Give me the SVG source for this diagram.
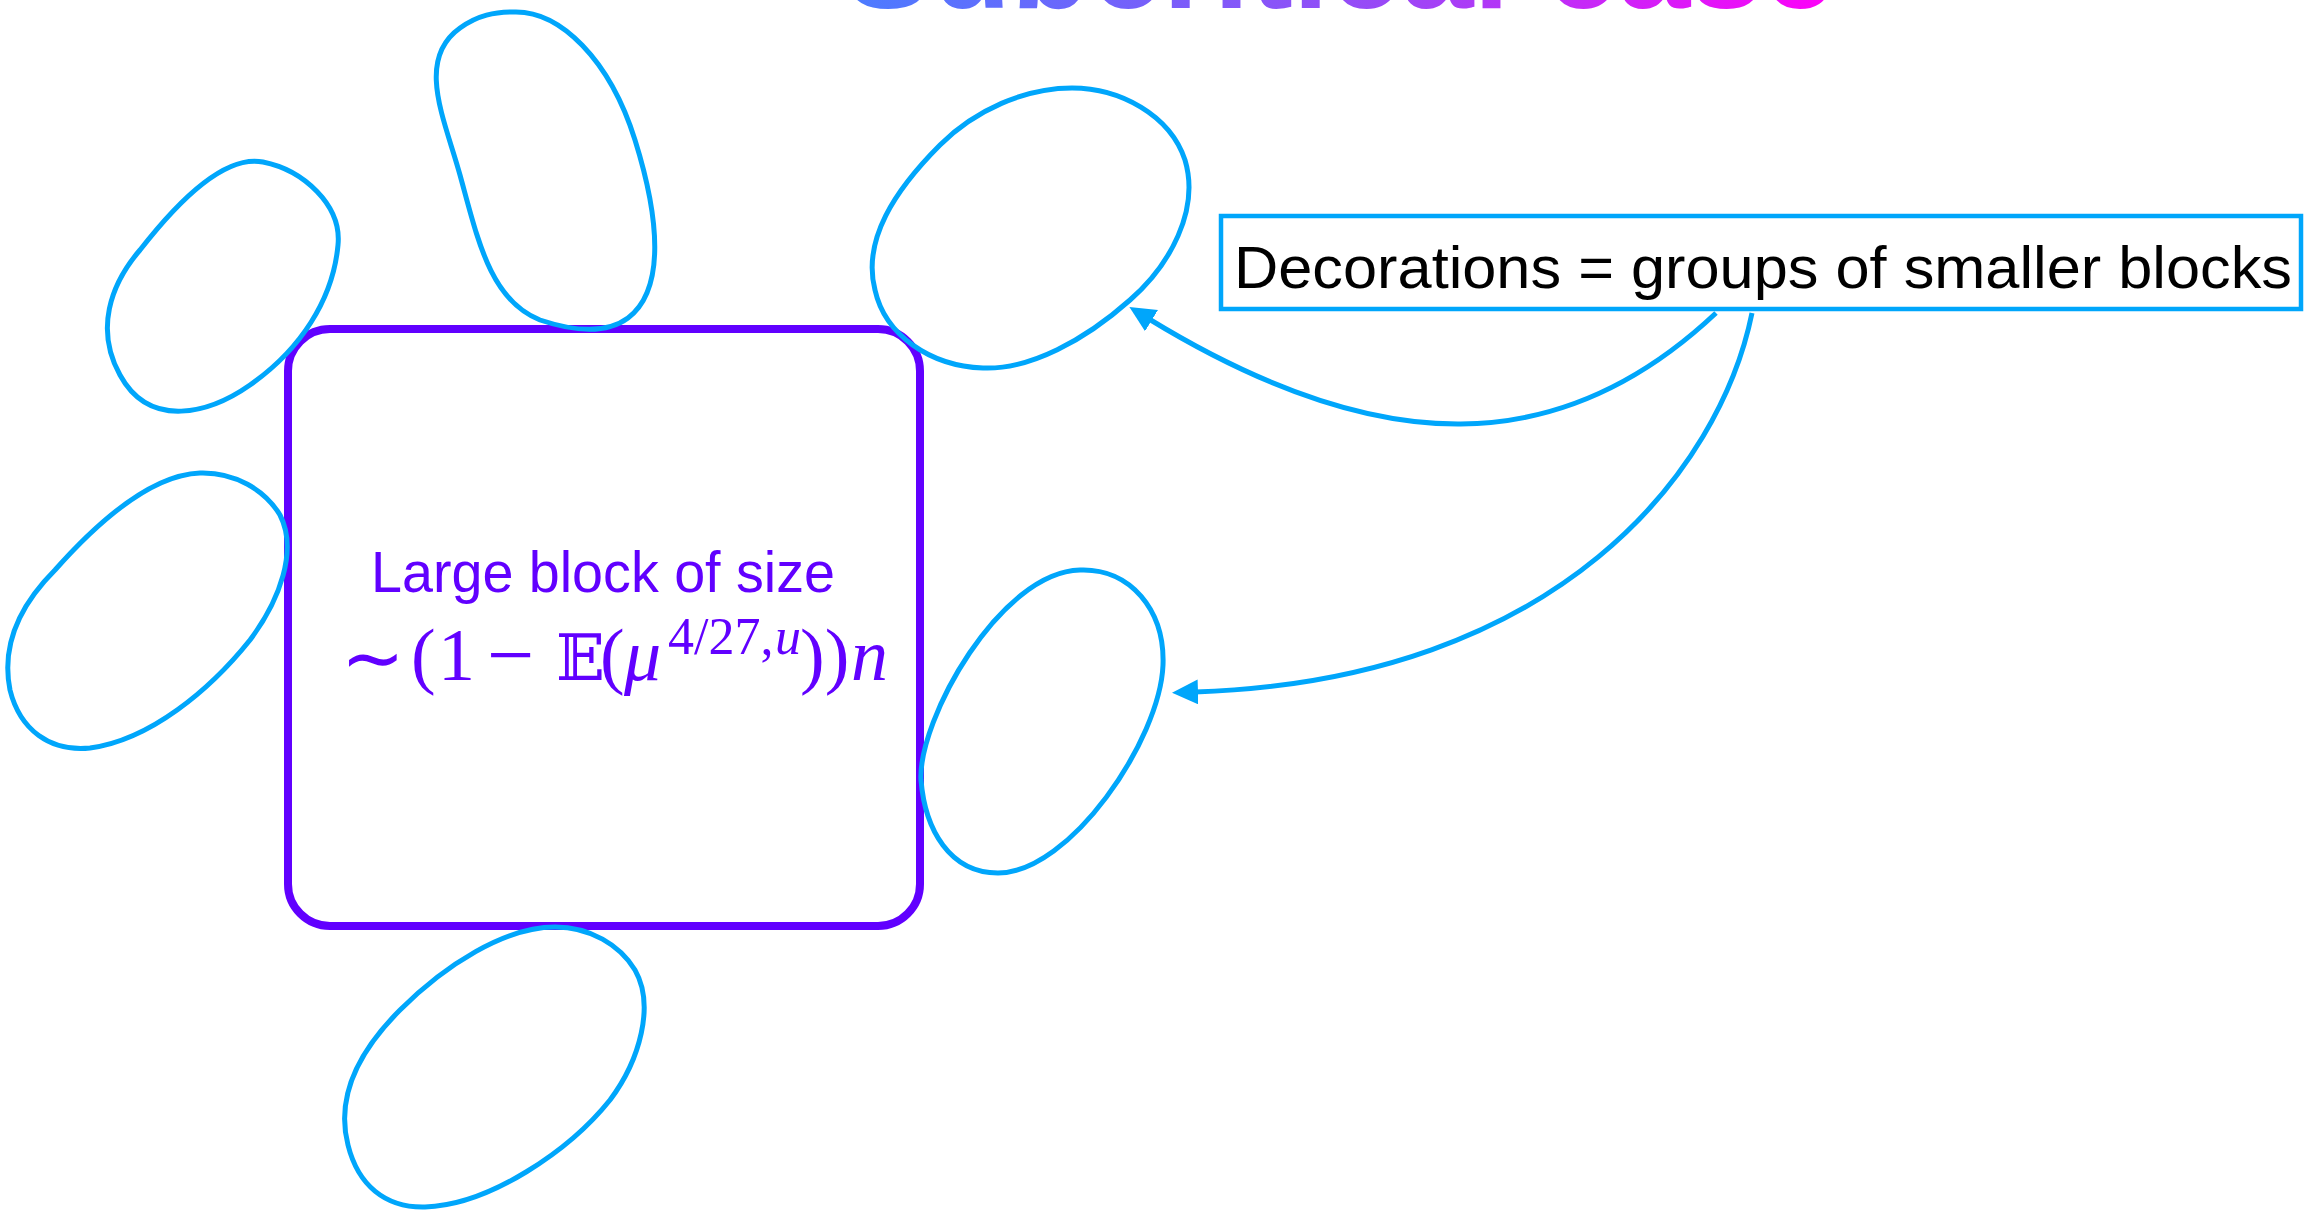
<svg xmlns="http://www.w3.org/2000/svg" width="2304" height="1211" viewBox="0 0 2304 1211">
<defs>
<linearGradient id="tg" gradientUnits="userSpaceOnUse" x1="845" y1="0" x2="1837" y2="0">
<stop offset="0" stop-color="#4b7cff"/>
<stop offset="0.55" stop-color="#9a48f6"/>
<stop offset="1" stop-color="#ff00f8"/>
</linearGradient>
<marker id="ah" markerUnits="userSpaceOnUse" markerWidth="28" markerHeight="26" refX="3" refY="12.5" orient="auto" viewBox="0 0 28 26">
<path d="M0,0 L26,12.5 L0,25 Z" fill="#00a6fb"/>
</marker>
<style>
.blob{fill:none;stroke:#00a6fb;stroke-width:5;stroke-linejoin:round}
.conn{fill:none;stroke:#00a6fb;stroke-width:5}
.big{fill:#fff;stroke:#6100ff;stroke-width:8}
.lbl{fill:#6100ff;font-family:"Liberation Sans",Arial,sans-serif}
.math{fill:#6100ff;font-family:"Liberation Serif","Times New Roman",serif}
.note{font-family:"Liberation Sans",Arial,sans-serif;font-size:60px;fill:#000}
</style>
</defs>
<rect width="2304" height="1211" fill="#fff"/>
<text x="845" y="8" font-family="Liberation Sans, Arial, sans-serif" font-weight="bold" font-size="130" fill="url(#tg)" textLength="990" lengthAdjust="spacingAndGlyphs">Subcritical case</text>
<g id="large-block">
<rect class="big" x="288" y="329" width="632" height="597" rx="42"/>
<text class="lbl" x="603" y="592" font-size="57" text-anchor="middle" textLength="464" lengthAdjust="spacingAndGlyphs">Large block of size</text>
<text class="math" y="680" font-size="74"><tspan x="341" y="684" font-size="76">∼</tspan><tspan x="411" y="680">(</tspan><tspan x="438">1</tspan><tspan x="487" y="683" font-size="84">−</tspan><tspan x="556" y="680" font-family="DejaVu Serif, DejaVu Sans, serif" font-size="64">𝔼</tspan><tspan x="600">(</tspan><tspan x="624" font-style="italic">μ</tspan><tspan x="668" y="654" font-size="52">4/27,</tspan><tspan x="775" y="654" font-size="52" font-style="italic">u</tspan><tspan x="800" y="680">))</tspan><tspan x="851" font-style="italic">n</tspan></text>
</g>
<g id="blob-a"><path class="blob" d="M263,162 C303,170 342,205 338,245 C333,300 300,350 250,385 C210,413 150,430 120,375 C95,330 110,285 140,250 C175,205 223,154 263,162 Z"/></g>
<g id="blob-b"><path class="blob" d="M513,12 C560,10 610,60 635,140 C660,220 665,290 628,318 C605,335 570,330 540,320 C490,300 478,240 460,175 C445,120 415,60 460,28 C478,15 495,12 513,12 Z"/></g>
<g id="blob-c"><path class="blob" d="M1072,88 C1120,88 1170,115 1185,160 C1200,210 1170,265 1130,300 C1085,340 1030,370 983,368 C930,366 885,335 875,290 C862,240 895,190 940,145 C975,110 1025,88 1072,88 Z"/></g>
<g id="blob-d"><path class="blob" d="M200,473 C235,472 265,490 280,515 C298,550 280,600 250,640 C210,690 150,740 90,748 C50,752 20,730 10,690 C0,640 25,600 55,570 C95,525 150,475 200,473 Z"/></g>
<g id="blob-e"><path class="blob" d="M1080,570 C1130,568 1165,610 1163,665 C1160,740 1070,873 998,873 C950,873 925,830 921,780 C918,720 1000,572 1080,570 Z"/></g>
<g id="blob-f"><path class="blob" d="M555,927 C590,927 620,945 635,970 C655,1005 640,1060 610,1100 C570,1150 490,1205 425,1207 C385,1208 358,1185 348,1145 C335,1095 360,1050 400,1010 C445,965 505,927 555,927 Z"/></g>
<g id="note">
<rect x="1221" y="216" width="1080" height="93" fill="#fff" stroke="#00a6fb" stroke-width="4.5"/>
<text class="note" x="1234" y="288" textLength="1058" lengthAdjust="spacingAndGlyphs">Decorations = groups of smaller blocks</text>
</g>
<g id="connectors">
<path class="conn" d="M1716,313 C1560,460 1380,460 1149,319" marker-end="url(#ah)"/>
<path class="conn" d="M1752,313 C1720,470 1560,680 1195,692" marker-end="url(#ah)"/>
</g>
</svg>
